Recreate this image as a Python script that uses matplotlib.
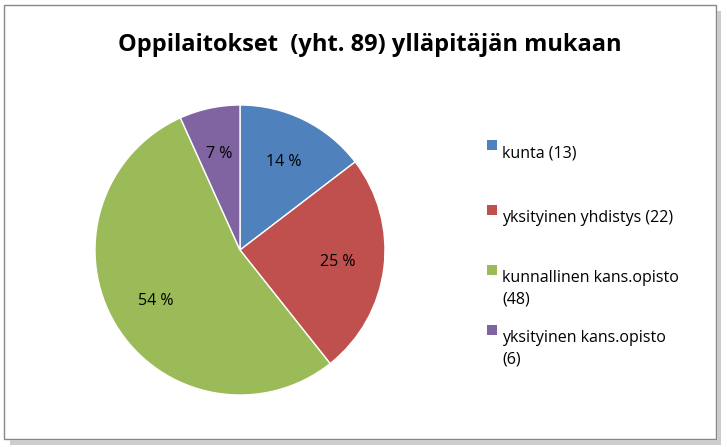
import matplotlib
matplotlib.use("Agg")
import matplotlib.pyplot as plt
from matplotlib.patches import Rectangle

labels = ["kunta (13)", "yksityinen yhdistys (22)", "kunnallinen kans.opisto\n(48)", "yksityinen kans.opisto\n(6)"]
values = [13, 22, 48, 6]
pct_labels = ["14 %", "25 %", "54 %", "7 %"]
colors = ["#4F81BD", "#C0504D", "#9BBB59", "#8064A2"]

plt.rcParams['font.family'] = ['Open Sans', 'DejaVu Sans']
W, H = 727, 447
fig = plt.figure(figsize=(W/100, H/100), dpi=100)
fig.patches.append(Rectangle((4/W, 8/H), 712/W, 434/H, transform=fig.transFigure,
                             fill=False, edgecolor="#888888", lw=1))
fig.patches.append(Rectangle((717/W, 2/H), 4/W, 434/H, transform=fig.transFigure,
                             color="#cccccc", lw=0))
fig.patches.append(Rectangle((10/W, 2/H), 711/W, 5/H, transform=fig.transFigure,
                             color="#cccccc", lw=0))
fig.text(370/W, 1-45/H, "Oppilaitokset  (yht. 89) ylläpitäjän mukaan",
         ha="center", va="center", fontsize=17, fontweight="bold")

ax = fig.add_axes([95/W, 1-395/H, 290/W, 290/H])
wedges, texts = ax.pie(values, colors=colors, startangle=90, counterclock=False,
                       labels=pct_labels, labeldistance=0.68,
                       wedgeprops=dict(edgecolor="white", linewidth=1),
                       textprops=dict(fontsize=11.5, ha="center", va="center"))
for t in texts:
    t.set_ha("center")
    t.set_va("center")
ax.set_xlim(-1, 1)
ax.set_ylim(-1, 1)
ax.set_aspect("equal")

ys = [145, 210, 270, 330]
for lab, c, y in zip(labels, colors, ys):
    fig.patches.append(Rectangle((487/W, 1-(y+5)/H), 10/W, 10/H,
                                 transform=fig.transFigure, color=c, lw=0))
    fig.text(502/W, 1-(y)/H, lab, ha="left", va="top", fontsize=11.5,
             linespacing=1.5, transform=fig.transFigure)
fig.savefig("out.png", dpi=100)
